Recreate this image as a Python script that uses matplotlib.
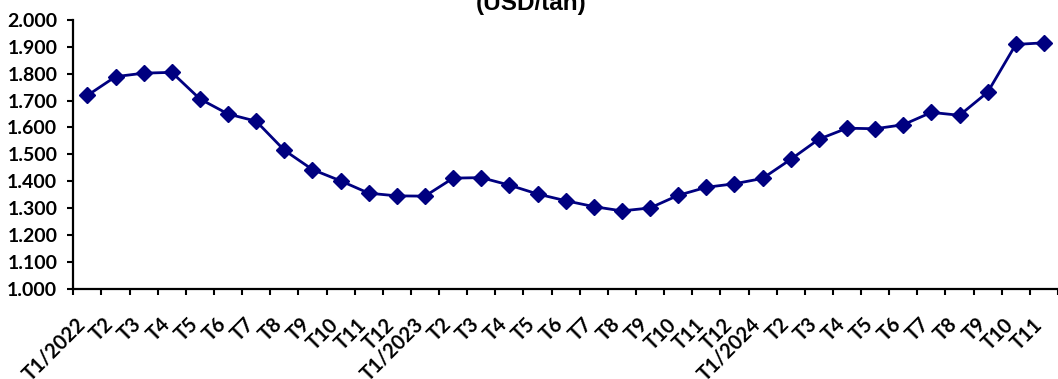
import matplotlib
matplotlib.use("Agg")
import matplotlib.pyplot as plt
from matplotlib.ticker import FuncFormatter, MultipleLocator
from matplotlib.transforms import ScaledTranslation
import numpy as np

# gia ban (USD/tan), T1/2022 -> T11/2024
months = ["T1/2022", "T2", "T3", "T4", "T5", "T6", "T7", "T8", "T9", "T10", "T11", "T12",
          "T1/2023", "T2", "T3", "T4", "T5", "T6", "T7", "T8", "T9", "T10", "T11", "T12",
          "T1/2024", "T2", "T3", "T4", "T5", "T6", "T7", "T8", "T9", "T10", "T11"]
prices = [1719, 1789, 1802, 1805, 1706, 1650, 1623, 1515, 1443, 1401, 1355, 1345,
          1344, 1411, 1413, 1385, 1352, 1327, 1305, 1289, 1300, 1347, 1377, 1390,
          1410, 1481, 1556, 1597, 1595, 1610, 1656, 1645, 1731, 1909, 1915]
unit_title = "(USD/tấn)"

W, H = 1058, 379
fig = plt.figure(figsize=(W / 100, H / 100), dpi=100)
left, bottom, top = 73.3, 288.5, 20.0
ax = fig.add_axes([left / W, 1 - bottom / H, 1 - left / W, (bottom - top) / H])

x = np.arange(len(prices))
ax.plot(x, prices, color="#000080", lw=2.0, marker="D", ms=8.6,
        mfc="#000080", mec="#000080", mew=1, clip_on=False, zorder=3)

step = 28.2
ax.set_xlim(-0.5, -0.5 + (W - left) / step)
ax.set_ylim(1000, 2000)

ax.yaxis.set_major_locator(MultipleLocator(100))
ax.yaxis.set_major_formatter(FuncFormatter(lambda v, p: f"{int(round(v)):,}".replace(",", ".")))

ax.set_xticks(x)
ax.set_xticks(np.arange(len(prices) + 1) - 0.5, minor=True)
ax.set_xticklabels(months, rotation=45, ha="right", rotation_mode="anchor",
                   fontfamily="Lato", fontweight="bold", fontsize=14.5)
ax.tick_params(axis="x", which="major", length=0, pad=15)
ax.tick_params(axis="x", which="minor", length=4.5, width=1.5, direction="out")
ax.tick_params(axis="y", length=4.5, width=1.5, direction="out", pad=7)
shift = ScaledTranslation(-12 / 100, -5 / 100, fig.dpi_scale_trans)
for lab in ax.get_xticklabels():
    lab.set_transform(lab.get_transform() + shift)
for lab in ax.get_yticklabels():
    lab.set_fontfamily("Lato")
    lab.set_fontweight("bold")
    lab.set_fontsize(14)

for s in ["top", "right"]:
    ax.spines[s].set_visible(False)
for s in ["left", "bottom"]:
    ax.spines[s].set_linewidth(1.6)

fig.text(531 / W, 1 - 10 / H, unit_title, ha="center", va="baseline",
         fontfamily="Liberation Sans", fontweight="bold", fontsize=17.5)

fig.savefig("out.png", dpi=100)
